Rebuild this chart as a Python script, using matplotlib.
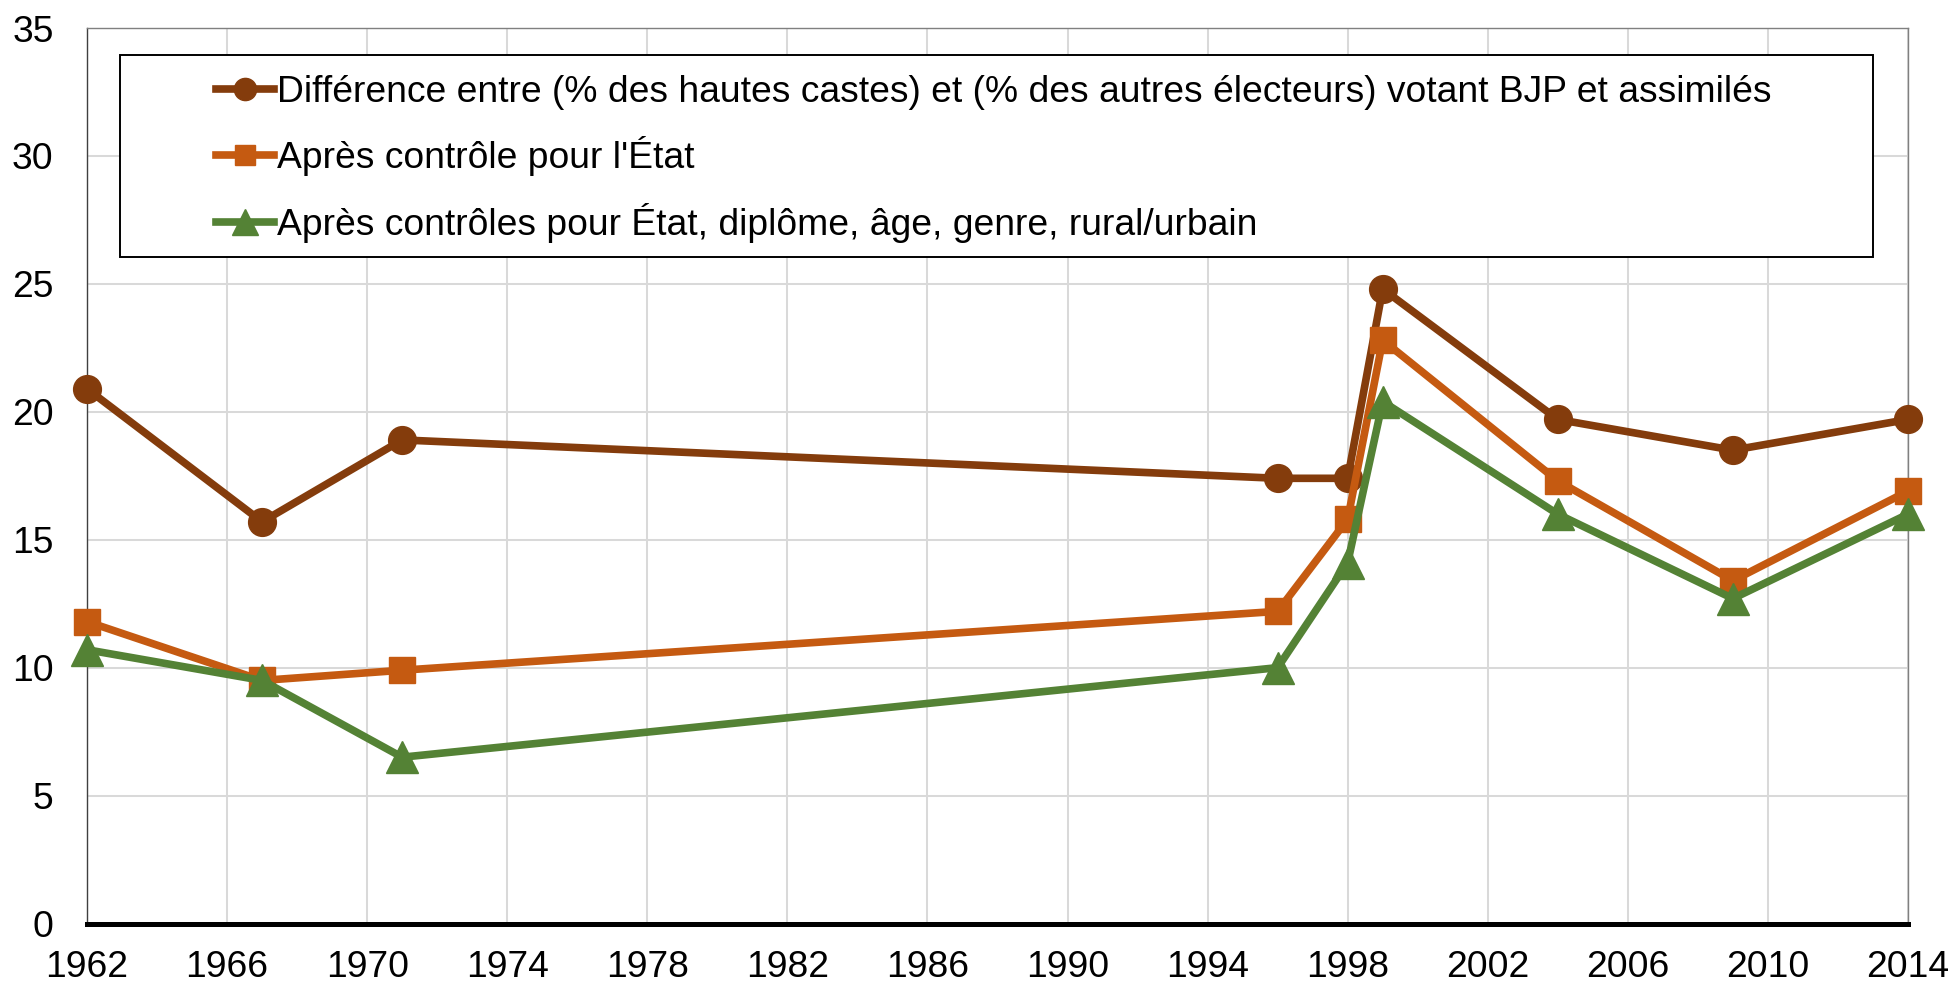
import matplotlib
matplotlib.use("Agg")
import matplotlib.pyplot as plt
from matplotlib.patches import Rectangle

plt.rcParams['font.family'] = ['Liberation Sans', 'DejaVu Sans']

years = [1962, 1967, 1971, 1996, 1998, 1999, 2004, 2009, 2014]
diff_raw = [20.9, 15.7, 18.9, 17.4, 17.4, 24.8, 19.7, 18.5, 19.7]
diff_state = [11.8, 9.5, 9.9, 12.2, 15.8, 22.8, 17.3, 13.4, 16.9]
diff_all = [10.7, 9.5, 6.5, 10.0, 14.1, 20.4, 16.0, 12.7, 16.0]
labels = [
    "Différence entre (% des hautes castes) et (% des autres électeurs) votant BJP et assimilés",
    "Après contrôle pour l'État",
    "Après contrôles pour État, diplôme, âge, genre, rural/urbain",
]
xticks = list(range(1962, 2015, 4))
yticks = list(range(0, 36, 5))

W, H = 1953, 984
fig = plt.figure(figsize=(W / 100, H / 100), dpi=100)
ax = fig.add_axes([87 / W, 1 - 923.5 / H, (1908 - 87) / W, (923.5 - 28) / H])

c_brown = "#843C0C"
c_orange = "#C55A11"
c_green = "#548235"

FS = 26.8
lw = 5.5
ax.plot(years, diff_raw, color=c_brown, lw=lw, marker="o", markersize=20,
        label=labels[0], clip_on=False, zorder=3, solid_joinstyle="round")
ax.plot(years, diff_state, color=c_orange, lw=lw, marker="s", markersize=18.5,
        label=labels[1], clip_on=False, zorder=3, solid_joinstyle="round")
ax.plot(years, diff_all, color=c_green, lw=lw, marker="^", markersize=23,
        label=labels[2], clip_on=False, zorder=3, solid_joinstyle="round")

ax.set_xlim(1962, 2014)
ax.set_ylim(0, 35)
ax.set_xticks(xticks)
ax.set_yticks(yticks)
ax.grid(True, color="#d9d9d9", lw=1.45, zorder=0)
ax.set_axisbelow(True)
ax.tick_params(axis="both", length=0, labelsize=FS)
ax.tick_params(axis="y", pad=24)
ax.tick_params(axis="x", pad=19)

ax.spines["bottom"].set_color("black")
ax.spines["bottom"].set_linewidth(3.6)
ax.spines["bottom"].set_zorder(4)
ax.spines["left"].set_color("#404040")
ax.spines["left"].set_linewidth(1.0)
for s in ("top", "right"):
    ax.spines[s].set_color("#808080")
    ax.spines[s].set_linewidth(1.0)

# legend frame
fig.patches.append(Rectangle((119.5 / W, 1 - 256.5 / H), (1873 - 119.5) / W, (256.5 - 54.5) / H,
                             transform=fig.transFigure, facecolor="white",
                             edgecolor="black", lw=1.4, zorder=5))
leg = fig.legend(loc="center left", bbox_to_anchor=(216 / W, 1 - 159 / H),
                 frameon=False, fontsize=FS, handlelength=1.55, handletextpad=0.08,
                 labelspacing=0.72, borderpad=0, borderaxespad=0, markerscale=0.8)
leg.set_zorder(6)

fig.savefig("out.png", dpi=100)
